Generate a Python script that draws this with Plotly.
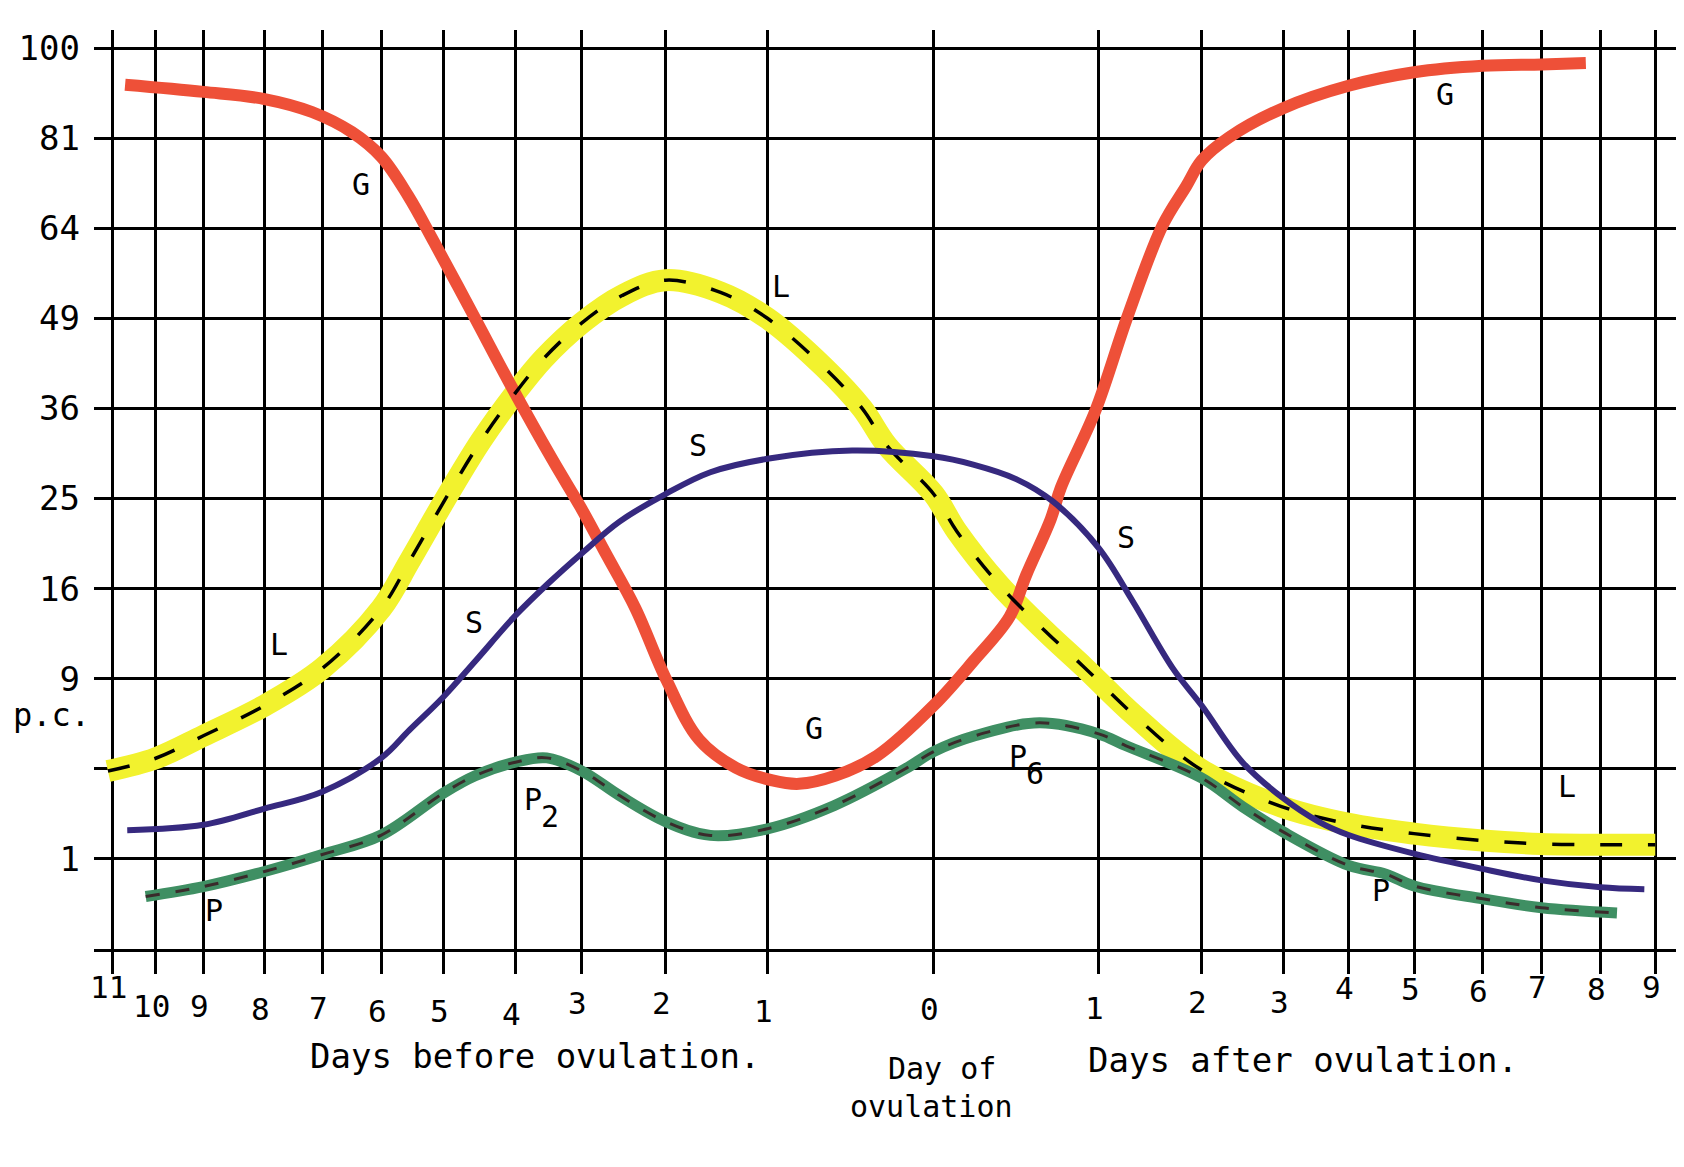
import numpy as np
import plotly.graph_objects as go

# ---------------- axis definition (hand-drawn chart: day lines are unevenly spaced) -------------
day_ticks = list(range(-11, 10))
day_tick_text = [str(abs(d)) for d in day_ticks]
# horizontal position of each day line on the original sheet (arbitrary paper units)
day_line_pos = [95, 135, 180, 237, 291, 346, 404, 471, 533, 611, 706, 861,
                1015, 1111, 1187, 1248, 1309, 1373, 1428, 1483, 1534]
# typewritten day numbers sit at uneven depths below the axis (pixels)
day_label_drop = [38, 57, 57, 60, 59, 62, 62, 65, 54, 54, 62, 60,
                  59, 53, 53, 39, 40, 42, 38, 40, 38]

# vertical axis: square-root scale in per cent
pc_ticks = [1, 9, 16, 25, 36, 49, 64, 81, 100]
pc_tick_text = ["1", "9", "16", "25", "36", "49", "64", "81", "100"]
pc_unlabelled = [0, 4]

# ---------------- data (day relative to ovulation, p.c.) ----------------
G_days = [-10.7, -9.0, -8.0, -7.18, -6.5, -6.0, -5.57, -5.15, -4.58, -4.1, -3.45, -3.0,
          -2.71, -2.36, -1.99, -1.67, -1.31, -0.97, -0.81, -0.59, -0.34, 0.0, 0.24, 0.46,
          0.56, 0.71, 0.77, 0.98, 1.28, 1.62, 1.85, 2.0, 2.34, 3.0, 4.0, 5.0, 6.0, 7.0, 7.75]
G_pc = [92, 90.5, 89, 86.3, 82.2, 77.3, 69.9, 61.5, 49.4, 39.8, 29.6, 23.8,
        19.2, 14.3, 8.9, 5.4, 4.05, 3.5, 3.36, 3.7, 4.6, 7.3, 10.2, 13.6,
        17.2, 22.8, 26.2, 35.7, 49.3, 64.5, 71.7, 76.6, 81.2, 87.1, 91.8, 94.7, 96.1, 96.4, 96.7]

L_days = [-11.1, -10, -9, -8, -7, -6, -5.55, -5, -4.48, -4, -3.58, -3, -2.52, -2, -1.46, -1,
          -0.66, -0.43, -0.28, 0, 0.14, 0.40, 0.68, 0.91, 1.35, 1.98, 2.98, 4, 5, 6, 7, 8, 9]
L_pc = [3.9, 4.47, 5.6, 7.3, 9.7, 14.3, 18.5, 24.6, 31.8, 38.1, 42.9, 48.3, 52.6, 55.1, 53.1, 49,
        41.7, 36, 31.2, 25.5, 21.5, 16.3, 12.4, 9.8, 6.7, 4.0, 2.5, 1.93, 1.64, 1.45, 1.36, 1.34, 1.34]

S_days = [-10.65, -9, -8, -7, -6, -5.55, -5, -4.56, -4, -3.5, -3, -2.55, -2, -1.56, -1,
          -0.49, 0, 0.24, 0.5, 0.72, 1.0, 1.33, 1.72, 2.0, 2.5, 3.0, 3.54, 4, 5, 6, 7, 8, 8.8]
S_pc = [1.74, 1.9, 2.43, 3.05, 4.5, 5.9, 7.84, 10.2, 13.7, 16.5, 19.3, 22.5, 25.5, 28.0, 29.6,
        30.6, 29.9, 28.9, 27.2, 24.7, 19.8, 14.9, 9.7, 7.3, 4.3, 2.8, 2.0, 1.6, 1.12, 0.79, 0.58, 0.47, 0.44]

P_days = [-10.22, -9, -8, -7, -6, -5, -4.56, -4, -3.53, -3, -2.55, -2, -1.56, -1, -0.6, -0.17,
          0, 0.25, 0.64, 1.0, 1.26, 2, 2.5, 3, 4, 4.57, 5, 6, 7, 8.3]
P_pc = [0.34, 0.48, 0.74, 1.1, 1.6, 3.0, 3.7, 4.3, 4.5, 3.9, 2.9, 2.0, 1.59, 1.78, 2.53, 4.0,
        4.8, 5.6, 6.3, 5.7, 5.1, 3.6, 2.5, 1.69, 0.86, 0.69, 0.49, 0.31, 0.21, 0.16]

# curve labels: text, day, p.c.
label_text = ["G", "G", "G", "L", "L", "L", "S", "S", "S", "P", "P", "P", "P"]
label_day = [-6.35, -0.72, 5.45, -7.75, -0.92, 7.43, -1.68, -4.58, 1.26, -8.83, 4.5, -3.74, 0.51]
label_pc = [72.0, 6.0, 90.0, 11.4, 54.0, 3.25, 31.2, 13.1, 20.9, 0.18, 0.42, 2.75, 4.55]
# typed index numbers beside the P labels at the two peaks (same size, set lower)
peak_index_text = ["2", "6"]
peak_index_of = [11, 12]


def xpos(days):
    d = np.asarray(days, dtype=float)
    p = np.interp(d, day_ticks, day_line_pos)
    lo_slope = (day_line_pos[1] - day_line_pos[0]) / (day_ticks[1] - day_ticks[0])
    hi_slope = (day_line_pos[-1] - day_line_pos[-2]) / (day_ticks[-1] - day_ticks[-2])
    p = np.where(d < day_ticks[0], day_line_pos[0] + (d - day_ticks[0]) * lo_slope, p)
    p = np.where(d > day_ticks[-1], day_line_pos[-1] + (d - day_ticks[-1]) * hi_slope, p)
    return p


def ysq(v):
    return np.sqrt(np.asarray(v, dtype=float))


MONO = "DejaVu Sans Mono"
fig = go.Figure()

# yellow highlighter L
fig.add_trace(go.Scatter(x=xpos(L_days), y=ysq(L_pc), mode="lines", line_shape="spline",
                         line=dict(color="#F2F22E", width=22), hoverinfo="skip"))
# red G
fig.add_trace(go.Scatter(x=xpos(G_days), y=ysq(G_pc), mode="lines", line_shape="spline",
                         line=dict(color="#EE5038", width=12), hoverinfo="skip"))
# green P
fig.add_trace(go.Scatter(x=xpos(P_days), y=ysq(P_pc), mode="lines", line_shape="spline",
                         line=dict(color="#3F8F63", width=11), hoverinfo="skip"))
# dashed overlays
fig.add_trace(go.Scatter(x=xpos(L_days), y=ysq(L_pc), mode="lines", line_shape="spline",
                         line=dict(color="black", width=3.5, dash="22px,26px"), hoverinfo="skip"))
fig.add_trace(go.Scatter(x=xpos(P_days), y=ysq(P_pc), mode="lines", line_shape="spline",
                         line=dict(color="#3a2b2b", width=3, dash="14px,16px"), hoverinfo="skip"))
# blue S
fig.add_trace(go.Scatter(x=xpos(S_days), y=ysq(S_pc), mode="lines", line_shape="spline",
                         line=dict(color="#36297F", width=6), hoverinfo="skip"))

annotations = []
for t, d, v in zip(label_text, label_day, label_pc):
    annotations.append(dict(x=float(xpos([d])[0]), y=float(np.sqrt(v)), text=t, showarrow=False,
                            xref="x", yref="y", font=dict(family=MONO, size=30, color="black")))
for t, i in zip(peak_index_text, peak_index_of):
    annotations.append(dict(x=float(xpos([label_day[i]])[0]), y=float(np.sqrt(label_pc[i])), text=t,
                            showarrow=False, xref="x", yref="y", xshift=17, yshift=-17,
                            font=dict(family=MONO, size=30, color="black")))

# day numbers under the axis (typewritten, uneven baseline)
for pos, txt, drop in zip(day_line_pos, day_tick_text, day_label_drop):
    annotations.append(dict(x=pos, y=0, xref="x", yref="y", text=txt, showarrow=False,
                            xshift=-4, yshift=-drop, yanchor="middle",
                            font=dict(family=MONO, size=31, color="black")))

annotations.append(dict(x=0, y=float(np.sqrt(6.2)), xref="paper", yref="y", text="p.c.",
                        xanchor="right", xshift=-2, yshift=10, showarrow=False,
                        font=dict(family=MONO, size=32, color="black")))
annotations.append(dict(x=float(xpos([-3.7])[0]), y=-0.116, xref="x", yref="paper",
                        text="Days before ovulation.", showarrow=False, yanchor="middle",
                        font=dict(family=MONO, size=34, color="black")))
annotations.append(dict(x=float(xpos([3.3])[0]), y=-0.121, xref="x", yref="paper",
                        text="Days after ovulation.", showarrow=False, yanchor="middle",
                        font=dict(family=MONO, size=34, color="black")))
annotations.append(dict(x=float(xpos([0.05])[0]), y=-0.130, xref="x", yref="paper",
                        text="Day of", showarrow=False, yanchor="middle",
                        font=dict(family=MONO, size=30, color="black")))
annotations.append(dict(x=float(xpos([-0.01])[0]), y=-0.171, xref="x", yref="paper",
                        text="ovulation", showarrow=False, yanchor="middle",
                        font=dict(family=MONO, size=30, color="black")))

fig.update_layout(
    width=1684, height=1167,
    margin=dict(l=84, r=11, t=22, b=226),
    paper_bgcolor="white", plot_bgcolor="white",
    showlegend=False,
    annotations=annotations,
    xaxis=dict(range=[78, 1558], tickmode="array", tickvals=day_line_pos,
               showticklabels=False,
               showgrid=True, gridcolor="black", gridwidth=2.7, zeroline=False,
               ticks="outside", ticklen=22, tickwidth=2.7, tickcolor="black",
               showline=True, linecolor="black", linewidth=3.2),
    yaxis=dict(range=[0, 10.2], tickmode="array", tickvals=list(ysq(pc_ticks)), ticktext=pc_tick_text,
               showgrid=True, gridcolor="black", gridwidth=3, zeroline=False,
               ticks="", showline=False, ticklabelstandoff=13,
               minor=dict(tickmode="array", tickvals=list(ysq(pc_unlabelled)), showgrid=True,
                          gridcolor="black", gridwidth=3, ticks=""),
               tickfont=dict(family=MONO, size=34, color="black")),
)

fig.write_html("out.html")
